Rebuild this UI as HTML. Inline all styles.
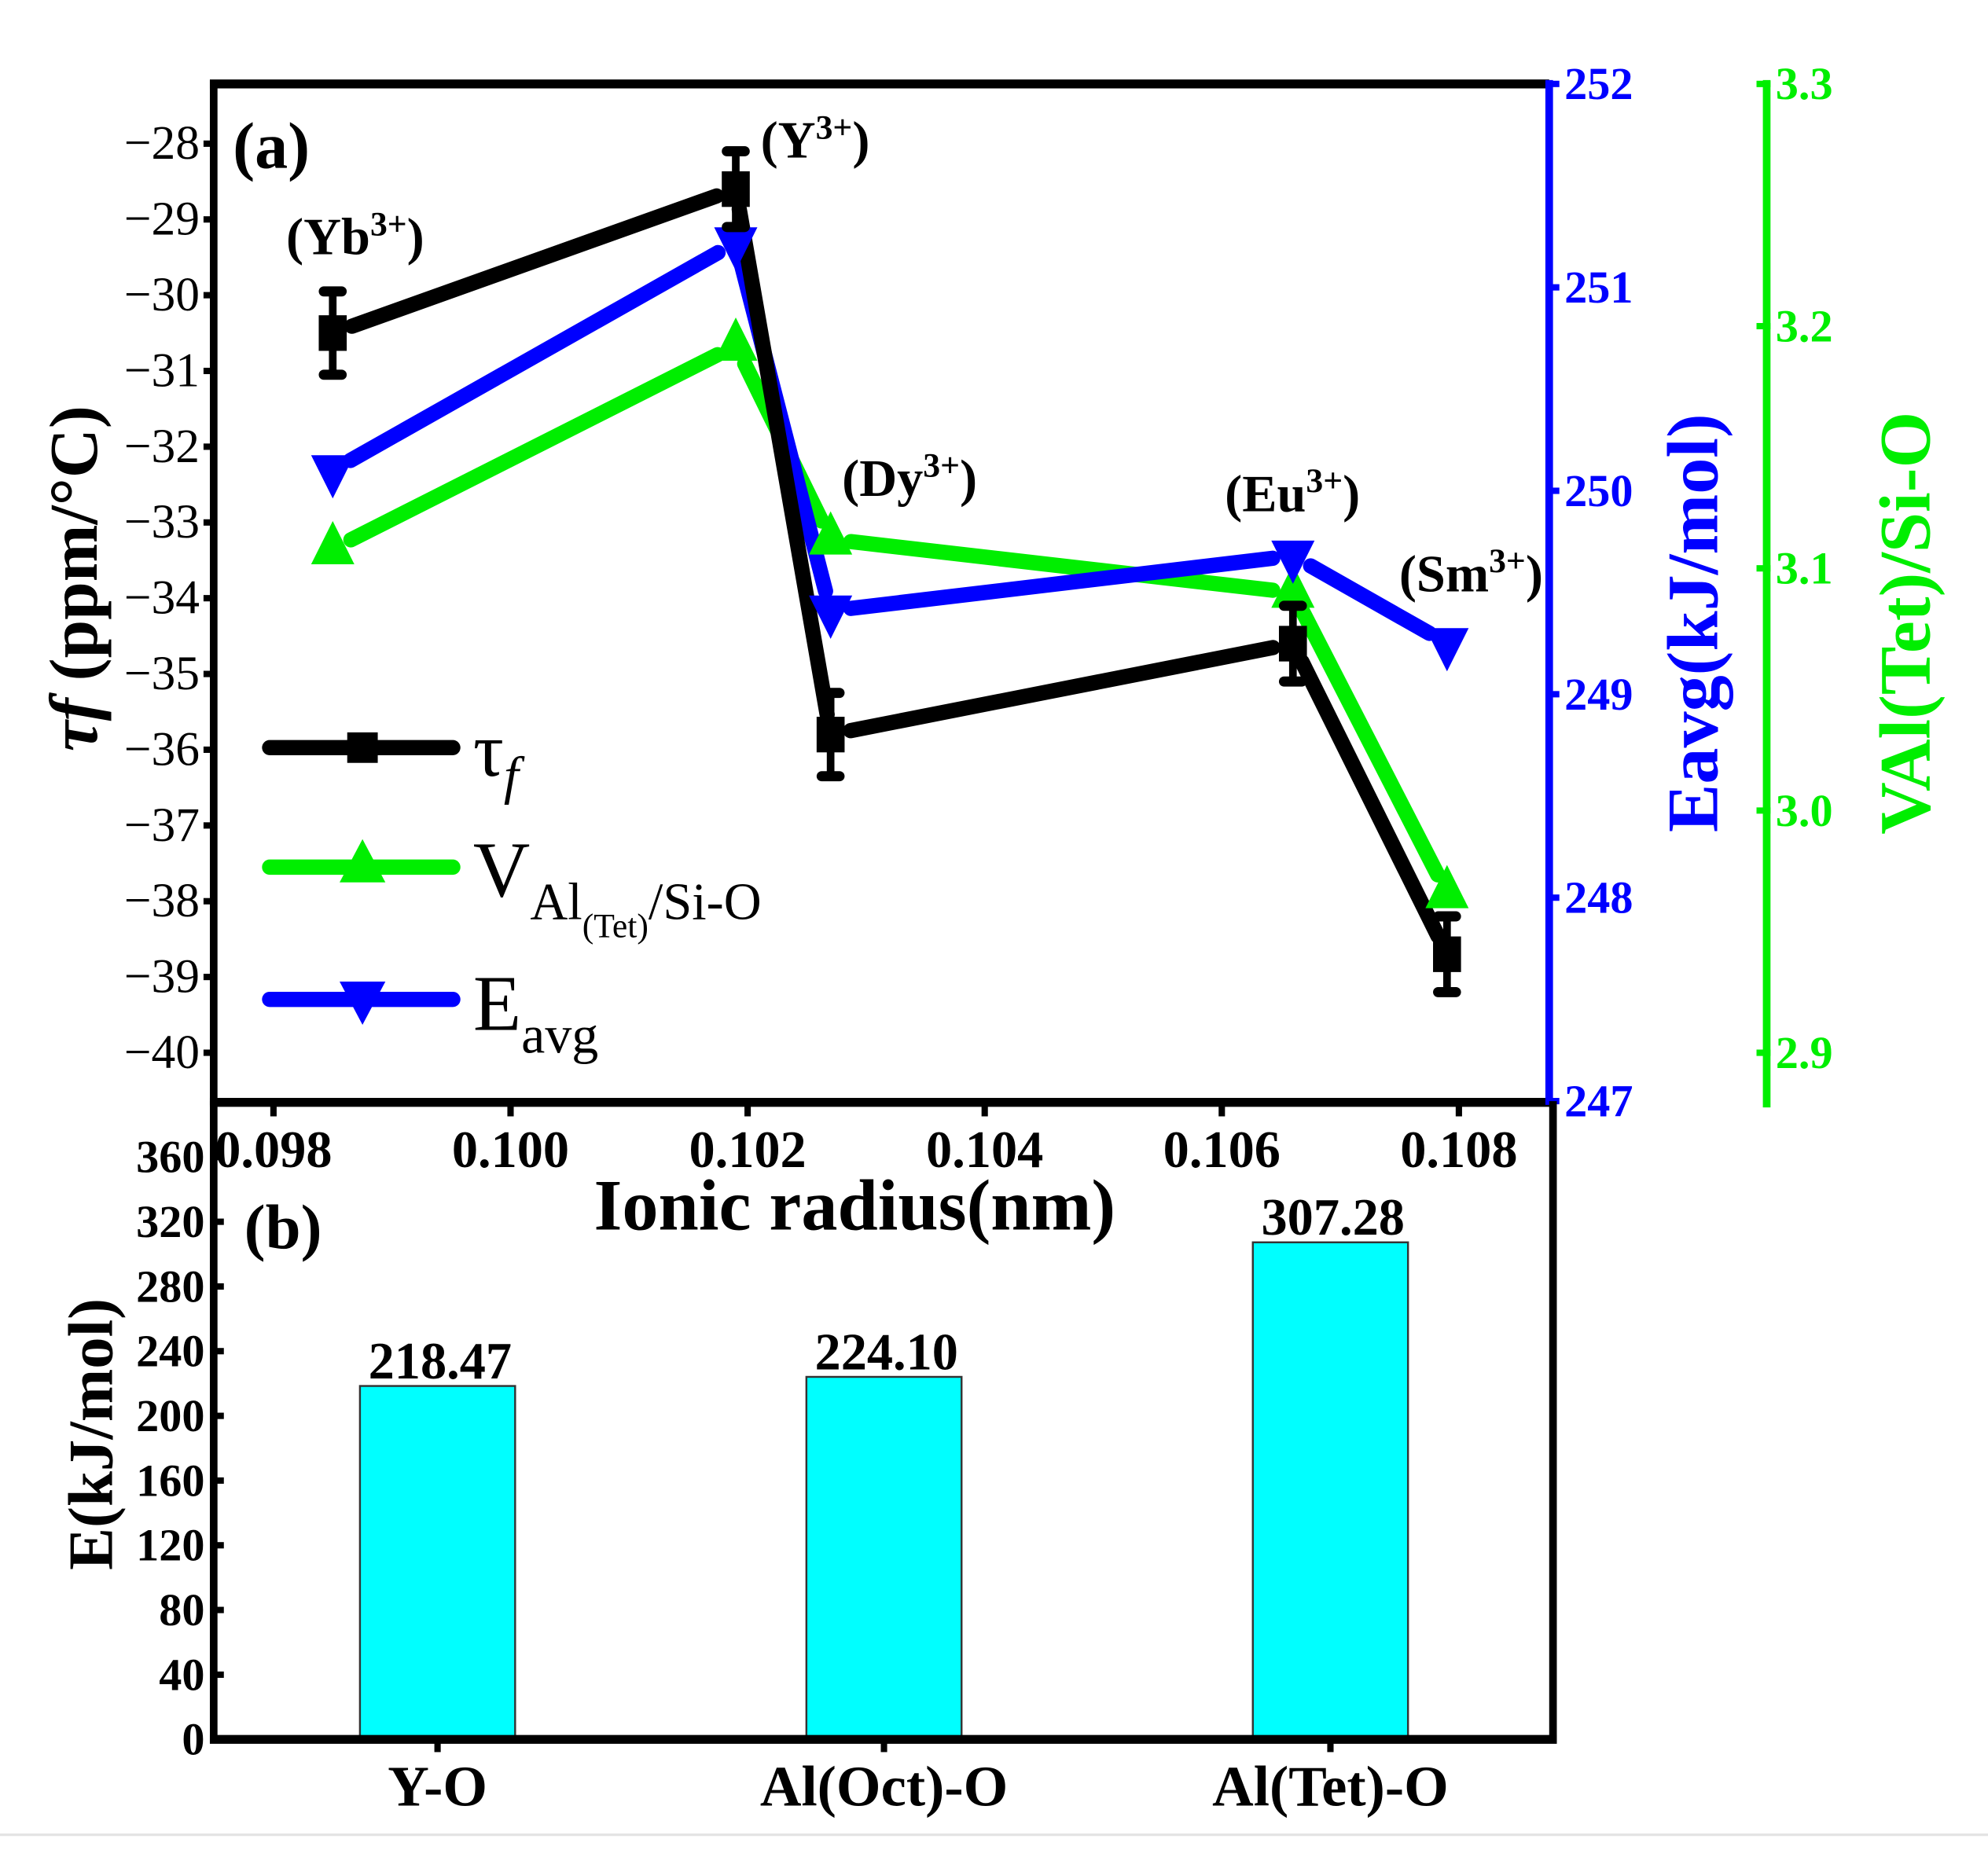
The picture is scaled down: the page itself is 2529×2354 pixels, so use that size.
<!DOCTYPE html>
<html><head><meta charset="utf-8"><style>
html,body{margin:0;padding:0;background:#fff;}
svg{display:block;font-family:"Liberation Serif",serif;}
</style></head><body>
<svg id="chart" width="2529" height="2354" viewBox="0 0 1563 1455" preserveAspectRatio="none" xmlns="http://www.w3.org/2000/svg">
<rect x="0" y="0" width="1563" height="1455" fill="#fff"/>
<line x1="0" y1="1443" x2="1563" y2="1443" stroke="#e4e4e4" stroke-width="2"/>
<g id="pa"></g>
<g id="pb"></g>
</svg>
<script>
// ---- Panel (a) data ----
const ions = ["(Yb", "(Y", "(Dy", "(Eu", "(Sm"];
const radius = [0.0985, 0.1019, 0.1027, 0.1066, 0.1079];
const tauF = [-30.5, -28.6, -35.8, -34.6, -38.7];
const tauErr = [0.55, 0.5, 0.55, 0.5, 0.5];
const eAvg = [250.1, 251.22, 249.41, 249.68, 249.25];
const vAl = [3.108, 3.192, 3.112, 3.090, 2.966];
const xTicks = [0.098, 0.100, 0.102, 0.104, 0.106, 0.108];
const tauTicks = [-28, -29, -30, -31, -32, -33, -34, -35, -36, -37, -38, -39, -40];
const eTicks = [252, 251, 250, 249, 248, 247];
const vTicks = [3.3, 3.2, 3.1, 3.0, 2.9];
// ---- Panel (b) data ----
const bonds = ["Y-O", "Al(Oct)-O", "Al(Tet)-O"];
const bondE = [218.47, 224.10, 307.28];
const bondLabels = ["218.47", "224.10", "307.28"];
const eTicksB = [0, 40, 80, 120, 160, 200, 240, 280, 320, 360];

const NS = "http://www.w3.org/2000/svg";
function mk(parent, tag, attrs, text) {
  const e = document.createElementNS(NS, tag);
  for (const k in attrs) e.setAttribute(k, attrs[k]);
  if (text !== undefined) e.textContent = text;
  parent.appendChild(e);
  return e;
}
const X = v => 215 + (v - 0.098) / 0.002 * 186.4;
const YT = v => 113 + (-28 - v) * 59.58;
const YE = v => 66 + (252 - v) * 160;
const YV = v => 66 + (3.3 - v) * 1905;
const pa = document.getElementById('pa');

let el;
el = mk(pa, 'line', {x1:165, y1:66, x2:1218, y2:66, stroke:'#000', 'stroke-width':7});


el = mk(pa, 'line', {x1:168, y1:63, x2:168, y2:869, stroke:'#000', 'stroke-width':6});


el = mk(pa, 'line', {x1:165, y1:867, x2:1221, y2:867, stroke:'#000', 'stroke-width':7});


el = mk(pa, 'line', {x1:1218, y1:63, x2:1218, y2:869, stroke:'#0000ff', 'stroke-width':6});


el = mk(pa, 'line', {x1:1389, y1:63, x2:1389, y2:871, stroke:'#00ee00', 'stroke-width':6});



tauTicks.forEach(t => {
  const y = YT(t);
  let k = mk(pa, 'line', {x1:160, y1:y, x2:168, y2:y, stroke:'#000', 'stroke-width':5});
  
  
  let l = mk(pa, 'text', {x:157, y:y+12, 'text-anchor':'end', 'font-size':38}, '\u2212' + Math.abs(t));
  
  
});
eTicks.forEach(t => {
  const y = YE(t);
  let k = mk(pa, 'line', {x1:1218, y1:y, x2:1226, y2:y, stroke:'#0000ff', 'stroke-width':5});
  
  
  let l = mk(pa, 'text', {x:1230, y:y+12, 'font-size':36, 'font-weight':'bold', fill:'#0000ff'}, String(t));
  
  
});
vTicks.forEach(t => {
  const y = YV(t);
  let k = mk(pa, 'line', {x1:1381, y1:y, x2:1392, y2:y, stroke:'#00ee00', 'stroke-width':5});
  
  
  let l = mk(pa, 'text', {x:1396, y:y+12, 'font-size':36, 'font-weight':'bold', fill:'#00ee00'}, t.toFixed(1));
  
  
});
xTicks.forEach(t => {
  const x = X(t);
  let k = mk(pa, 'line', {x1:x, y1:867, x2:x, y2:878, stroke:'#000', 'stroke-width':5});
  
  
  let l = mk(pa, 'text', {x:x, y:918, 'text-anchor':'middle', 'font-size':41, 'font-weight':'bold'}, t.toFixed(3));
  
  
});

function series(vals, yf, color, name) {
  for (let i = 0; i < vals.length - 1; i++) {
    const x1 = X(radius[i]), y1 = yf(vals[i]), x2 = X(radius[i+1]), y2 = yf(vals[i+1]);
    const d = Math.hypot(x2-x1, y2-y1), g = 16;
    const ux = (x2-x1)/d, uy = (y2-y1)/d;
    const s = mk(pa, 'line', {x1:x1+ux*g, y1:y1+uy*g, x2:x2-ux*g, y2:y2-uy*g, stroke:color, 'stroke-width':12, 'stroke-linecap':'round'});
    
    
  }
}
series(vAl, YV, '#00ee00', 'v-al');
series(eAvg, YE, '#0000ff', 'eavg');
series(tauF, YT, '#000', 'tau-f');

function triUp(x, y, c) { return mk(pa, 'polygon', {points:`${x},${y-22} ${x-17},${y+12} ${x+17},${y+12}`, fill:c}); }
function triDown(x, y, c) { return mk(pa, 'polygon', {points:`${x},${y+22} ${x-17},${y-12} ${x+17},${y-12}`, fill:c}); }

radius.forEach((r, i) => {
  const x = X(r);
  let m = triUp(x, YV(vAl[i]), '#00ee00');
  
  
  m = triDown(x, YE(eAvg[i]), '#0000ff');
  
  
  const yt = YT(tauF[i]), ylo = YT(tauF[i] - tauErr[i]), yhi = YT(tauF[i] + tauErr[i]);
  let e = mk(pa, 'line', {x1:x, y1:yhi, x2:x, y2:ylo, stroke:'#000', 'stroke-width':6});
  
  
  [yhi, ylo].forEach(yy => {
    let c = mk(pa, 'line', {x1:x-7, y1:yy, x2:x+7, y2:yy, stroke:'#000', 'stroke-width':8, 'stroke-linecap':'round'});
    
    
  });
  m = mk(pa, 'rect', {x:x-11, y:yt-14, width:22, height:28, fill:'#000'});
  
  
});

const ionPos = [[225,200],[598,124],[662,390],[963,402],[1100,465]];
ions.forEach((s, i) => {
  const t = mk(pa, 'text', {x:ionPos[i][0], y:ionPos[i][1], 'font-size':41, 'font-weight':'bold'});
  
  
  mk(t, 'tspan', {}, s);
  mk(t, 'tspan', {dy:-15, 'font-size':27}, '3+');
  mk(t, 'tspan', {dy:15}, ')');
});
</script>
<script>
(function(){
const pa = document.getElementById('pa');
function T(attrs, txt, name){ const e = document.createElementNS("http://www.w3.org/2000/svg",'text'); for(const k in attrs) e.setAttribute(k, attrs[k]); e.textContent = txt;   pa.appendChild(e); return e; }
T({x:183, y:132, 'font-size':52, 'font-weight':'bold'}, '(a)', 'panel-a-label');
let yt = T({x:0, y:0, 'font-size':54, 'font-weight':'bold', transform:'translate(76,455) rotate(-90)', 'text-anchor':'middle'}, '', 'tau-axis-title');
yt.innerHTML = '<tspan font-style="italic">τ<tspan>f</tspan></tspan> (ppm/°C)';
T({x:0, y:0, 'font-size':57, 'font-weight':'bold', fill:'#0000ff', transform:'translate(1350,490) rotate(-90)', 'text-anchor':'middle'}, 'Eavg(kJ/mol)', 'eavg-axis-title');
T({x:0, y:0, 'font-size':57, 'font-weight':'bold', fill:'#00ee00', transform:'translate(1517,490) rotate(-90)', 'text-anchor':'middle'}, 'VAl(Tet)/Si-O', 'v-axis-title');
T({x:672, y:967, 'font-size':57, 'font-weight':'bold', 'text-anchor':'middle'}, 'Ionic radius(nm)', 'x-axis-title');
const NS="http://www.w3.org/2000/svg";
const lg = document.createElementNS(NS,'g');   pa.appendChild(lg);
lg.innerHTML =
 '<g><line x1="212" y1="588" x2="356" y2="588" stroke="#000" stroke-width="12" stroke-linecap="round"/><rect x="273" y="576" width="24" height="24" fill="#000"/>'+
 '<text x="372" y="610" font-size="60">τ<tspan dy="14" font-size="42" font-style="italic">f</tspan></text></g>'+
 '<g><line x1="212" y1="682" x2="356" y2="682" stroke="#00ee00" stroke-width="12" stroke-linecap="round"/><polygon points="285,660 267,694 303,694" fill="#00ee00"/>'+
 '<text x="372" y="705" font-size="62">V<tspan dy="18" font-size="41">Al</tspan><tspan dy="14" font-size="27">(Tet)</tspan><tspan dy="-14" font-size="41">/Si-O</tspan></text></g>'+
 '<g><line x1="212" y1="786" x2="356" y2="786" stroke="#0000ff" stroke-width="12" stroke-linecap="round"/><polygon points="285,806 267,772 303,772" fill="#0000ff"/>'+
 '<text x="372" y="810" font-size="62">E<tspan dy="18" font-size="42">avg</tspan></text></g>';
})();
</script>
<script>
(function(){
const NS = "http://www.w3.org/2000/svg";
const pb = document.getElementById('pb');
function mk(tag, attrs, text){ const e = document.createElementNS(NS, tag); for (const k in attrs) e.setAttribute(k, attrs[k]); if (text!==undefined) e.textContent = text; pb.appendChild(e); return e; }
const YB = v => 1368 - v * (458 / 360);
const XB = i => 344 + i * 351;
bondE.forEach((v, i) => {
  const r = mk('rect', {x:XB(i)-61, y:YB(v), width:122, height:1368-YB(v), fill:'#00ffff', stroke:'#333', 'stroke-width':1.5});
  
  
  const t = mk('text', {x:XB(i)+2, y:YB(v)-6, 'text-anchor':'middle', 'font-size':41, 'font-weight':'bold'}, bondLabels[i]);
  
  
  const c = mk('text', {x:XB(i), y:1420, 'text-anchor':'middle', 'font-size':45, 'font-weight':'bold'}, bonds[i]);
  
  
  const k = mk('line', {x1:XB(i), y1:1368, x2:XB(i), y2:1378, stroke:'#000', 'stroke-width':5});
  
  
});
let a = mk('line', {x1:168, y1:866, x2:168, y2:1371, stroke:'#000', 'stroke-width':6});


a = mk('line', {x1:165, y1:1368, x2:1224, y2:1368, stroke:'#000', 'stroke-width':7});


a = mk('line', {x1:1221, y1:866, x2:1221, y2:1371, stroke:'#000', 'stroke-width':6});


eTicksB.forEach(t => {
  const y = YB(t);
  const k = mk('line', {x1:168, y1:y, x2:176, y2:y, stroke:'#000', 'stroke-width':5});
  
  
  const l = mk('text', {x:161, y:y+12, 'text-anchor':'end', 'font-size':36, 'font-weight':'bold'}, String(t));
  
  
});
let t = mk('text', {x:192, y:982, 'font-size':50, 'font-weight':'bold'}, '(b)');


t = mk('text', {x:0, y:0, transform:'translate(88,1128) rotate(-90)', 'text-anchor':'middle', 'font-size':50, 'font-weight':'bold'}, 'E(kJ/mol)');


})();
</script>
</body></html>
